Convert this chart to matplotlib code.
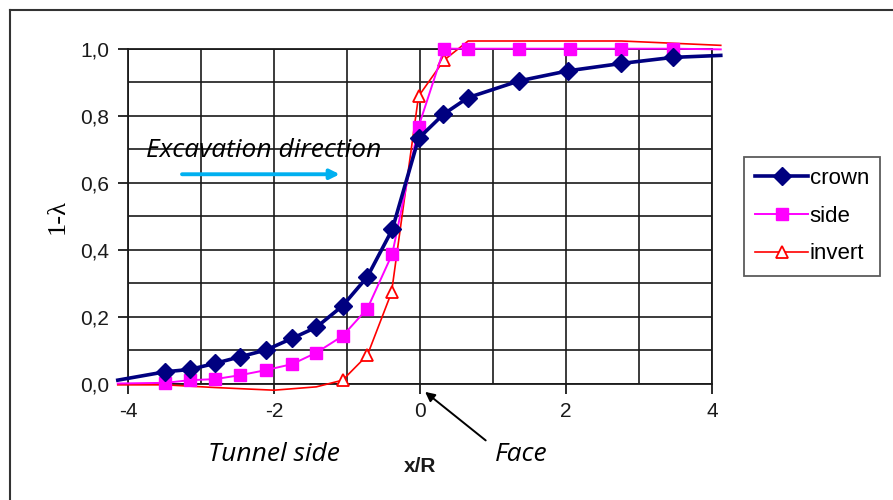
import matplotlib
matplotlib.use("Agg")
import matplotlib.pyplot as plt
from matplotlib.ticker import MultipleLocator, FuncFormatter
from matplotlib.lines import Line2D

# data
x_crown = [-4.14, -3.49, -3.15, -2.81, -2.46, -2.11, -1.75, -1.42, -1.06, -0.72,
           -0.38, -0.02, 0.32, 0.66, 1.36, 2.03, 2.76, 3.46, 4.12]
y_crown = [0.010, 0.035, 0.042, 0.060, 0.080, 0.100, 0.135, 0.168, 0.232, 0.319,
           0.460, 0.732, 0.804, 0.854, 0.904, 0.934, 0.956, 0.974, 0.980]

x_side = [-4.14, -3.49, -3.15, -2.81, -2.46, -2.11, -1.75, -1.42, -1.06, -0.72,
          -0.38, -0.02, 0.33, 0.66, 1.36, 2.05, 2.76, 3.46, 4.12]
y_side = [0.000, 0.002, 0.010, 0.013, 0.025, 0.040, 0.058, 0.092, 0.142, 0.224,
          0.387, 0.767, 1.000, 1.000, 1.000, 1.000, 1.000, 1.000, 0.998]

x_invert = [-4.14, -3.49, -2.81, -2.00, -1.42, -1.06, -0.72, -0.39, -0.02, 0.33,
            0.66, 2.76, 4.12]
y_invert = [-0.004, -0.004, -0.012, -0.020, -0.010, 0.010, 0.085, 0.272, 0.858,
            0.966, 1.023, 1.023, 1.010]

plt.rcParams['font.family'] = ['Liberation Sans', 'DejaVu Sans']

fig = plt.figure(figsize=(8.93, 5.0), dpi=100)
ax = fig.add_axes([128/893, 1-383.5/500, (712-128)/893, (383.5-48.7)/500])

ax.plot(x_crown, y_crown, color='#000080', lw=2.6, marker='D', ms=9.5,
        markevery=list(range(1, 18)), clip_on=False, zorder=5, label='crown')
ax.plot(x_side, y_side, color='#FF00FF', lw=1.4, marker='s', ms=8.5,
        markevery=list(range(1, 18)), clip_on=False, zorder=4, label='side')
ax.plot(x_invert, y_invert, color='#FF0000', lw=1.2, marker='^', ms=8,
        mfc='white', mec='#FF0000', mew=1.3, markevery=[5, 6, 7, 8, 9],
        clip_on=False, zorder=3, label='invert')

ax.set_xlim(-4, 4)
ax.set_ylim(0, 1)
ax.xaxis.set_major_locator(MultipleLocator(2))
ax.xaxis.set_minor_locator(MultipleLocator(1))
ax.yaxis.set_major_locator(MultipleLocator(0.2))
ax.yaxis.set_minor_locator(MultipleLocator(0.1))
ax.yaxis.set_major_formatter(FuncFormatter(lambda v, p: f"{v:.1f}".replace('.', ',')))
ax.xaxis.set_major_formatter(FuncFormatter(lambda v, p: f"{v:.0f}"))
ax.grid(which='both', color='#1a1a1a', lw=1.2)
ax.set_axisbelow(True)
ax.tick_params(which='major', length=7, width=1.3, direction='out',
               labelsize=15, colors='#1a1a1a', pad=6.5)
ax.tick_params(which='minor', length=0)
for s in ax.spines.values():
    s.set_color('#1a1a1a')
    s.set_linewidth(1.3)

ax.set_ylabel('1-λ', family=['Liberation Serif', 'DejaVu Serif'], fontsize=19, labelpad=8)
ax.set_xlabel('x/R', fontweight='bold', fontsize=15, labelpad=26, color='#1a1a1a')

# annotations
ax.text(-3.76, 0.697, 'Excavation direction', fontsize=19, style='italic',
        family=['Open Sans', 'DejaVu Sans'], va='center', ha='left')
ax.annotate('', xy=(-1.1, 0.625), xytext=(-3.26, 0.625),
            arrowprops=dict(arrowstyle='-|>', color='#00B0F0', lw=2.8,
                            mutation_scale=14, shrinkA=0, shrinkB=0))
ax.text(-2.0, -0.213, 'Tunnel side', fontsize=19, style='italic',
        family=['Open Sans', 'DejaVu Sans'], ha='center', va='center')
ax.text(1.38, -0.213, 'Face', fontsize=19, style='italic',
        family=['Open Sans', 'DejaVu Sans'], ha='center', va='center')
ax.annotate('', xy=(0.07, -0.025), xytext=(0.9, -0.17),
            arrowprops=dict(arrowstyle='-|>', color='black', lw=1.4,
                            mutation_scale=14, shrinkA=0, shrinkB=0),
            annotation_clip=False)

leg = fig.legend(loc='upper left', bbox_to_anchor=(744/893, 1-157/500),
                 fontsize=16, handlelength=2.4, handletextpad=0.05,
                 labelspacing=0.75, borderpad=0.5, borderaxespad=0,
                 fancybox=False, frameon=True)
leg.get_frame().set_edgecolor('#333333')
leg.get_frame().set_linewidth(1.3)

# outer chart frame
fig.add_artist(Line2D([10/893, 10/893], [0, 1-10/500], transform=fig.transFigure,
                      color='#333333', lw=1.5))
fig.add_artist(Line2D([10/893, 1], [1-10/500, 1-10/500], transform=fig.transFigure,
                      color='#333333', lw=1.5))

fig.savefig('out.png', dpi=100)
